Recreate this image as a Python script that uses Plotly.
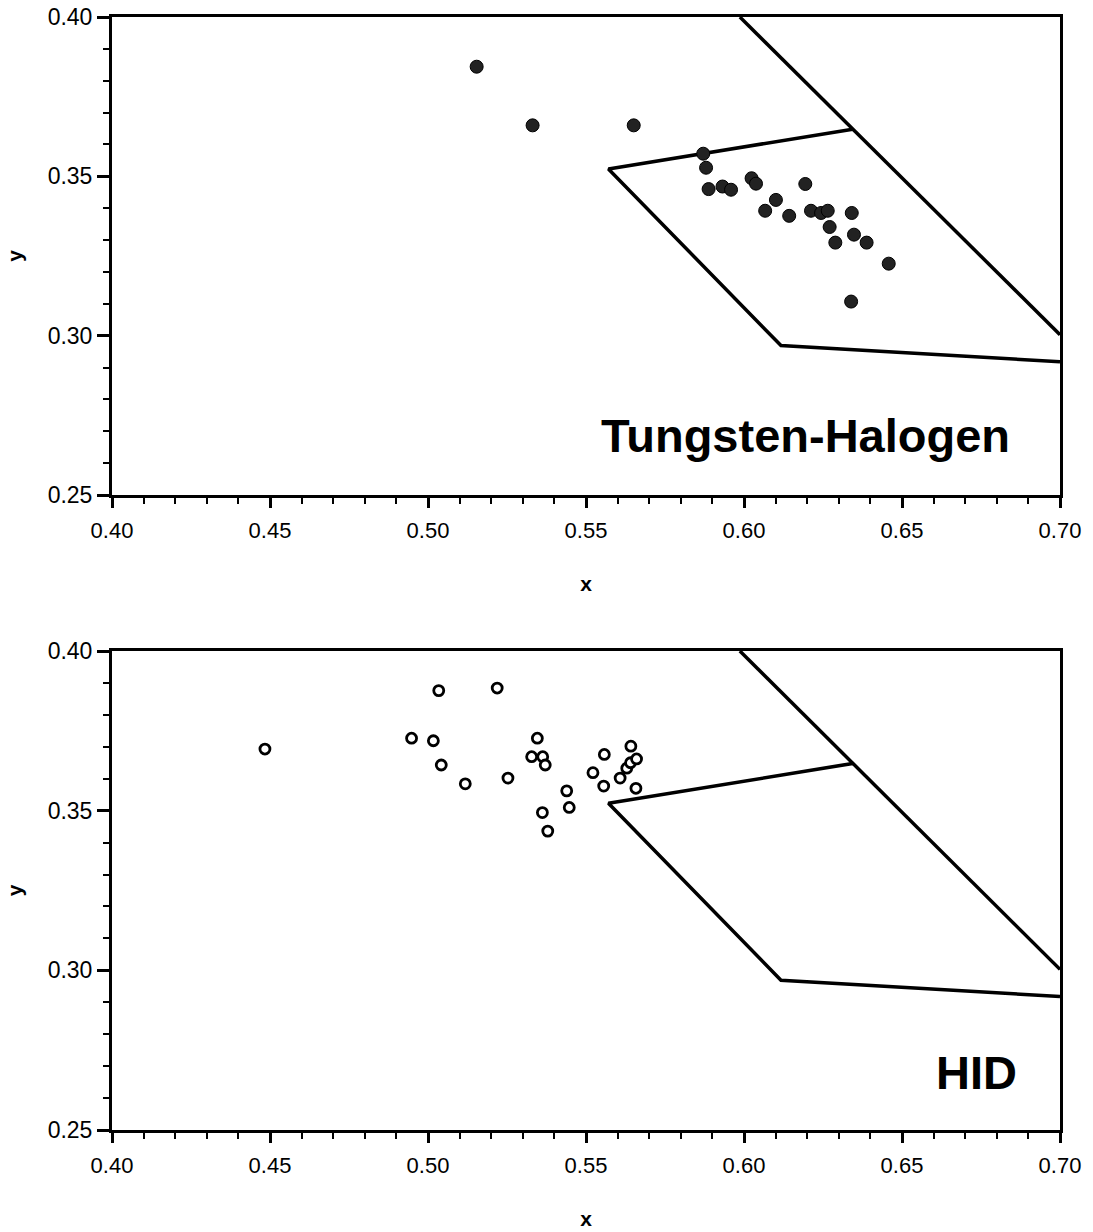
import plotly.graph_objects as go
from plotly.subplots import make_subplots

# Tungsten-Halogen measurements (chromaticity x, y)
th_x = [0.5154, 0.5331, 0.5651, 0.5871, 0.5880, 0.5888, 0.5932, 0.5959, 0.6024, 0.6038,
        0.6101, 0.6067, 0.6143, 0.6194, 0.6212, 0.6244, 0.6265, 0.6271, 0.6289, 0.6341,
        0.6348, 0.6388, 0.6458, 0.6339]
th_y = [0.3844, 0.3660, 0.3660, 0.3571, 0.3527, 0.3460, 0.3468, 0.3458, 0.3494, 0.3477,
        0.3426, 0.3392, 0.3376, 0.3476, 0.3392, 0.3385, 0.3392, 0.3341, 0.3292, 0.3385,
        0.3317, 0.3292, 0.3226, 0.3107]

# HID measurements
hid_x = [0.4484, 0.5034, 0.5219, 0.4948, 0.5017, 0.5042, 0.5118, 0.5253, 0.5346, 0.5328,
         0.5363, 0.5371, 0.5439, 0.5447, 0.5362, 0.5379, 0.5558, 0.5522, 0.5556, 0.5608,
         0.5642, 0.5629, 0.5641, 0.5660, 0.5658]
hid_y = [0.3693, 0.3876, 0.3884, 0.3727, 0.3719, 0.3643, 0.3584, 0.3602, 0.3727, 0.3669,
         0.3669, 0.3643, 0.3562, 0.3510, 0.3494, 0.3436, 0.3676, 0.3619, 0.3577, 0.3602,
         0.3702, 0.3633, 0.3650, 0.3662, 0.3570]

# Boundary lines
outer_x = [0.5987, 0.7000]
outer_y = [0.4000, 0.3003]
inner_x = [0.6344, 0.5571, 0.6117, 0.7000]
inner_y = [0.3648, 0.3523, 0.2969, 0.2918]

labels = ["Tungsten-Halogen", "HID"]

fig = make_subplots(rows=2, cols=1, vertical_spacing=0.14)

for r in (1, 2):
    fig.add_trace(go.Scatter(x=outer_x, y=outer_y, mode="lines",
                             line=dict(color="black", width=3.5), showlegend=False,
                             hoverinfo="skip"), row=r, col=1)
    fig.add_trace(go.Scatter(x=inner_x, y=inner_y, mode="lines",
                             line=dict(color="black", width=3.5), showlegend=False,
                             hoverinfo="skip"), row=r, col=1)

fig.add_trace(go.Scatter(x=th_x, y=th_y, mode="markers", name="Tungsten-Halogen",
                         marker=dict(symbol="circle", size=13, color="#222222",
                                     line=dict(color="black", width=1)),
                         showlegend=False, cliponaxis=False), row=1, col=1)
fig.add_trace(go.Scatter(x=hid_x, y=hid_y, mode="markers", name="HID",
                         marker=dict(symbol="circle", size=10, color="white",
                                     line=dict(color="black", width=2.8)),
                         showlegend=False, cliponaxis=False), row=2, col=1)

font_x = dict(family="Liberation Sans, Arial, sans-serif", size=22, color="black")
font_y = dict(family="Liberation Sans, Arial, sans-serif", size=23, color="black")
font_title = dict(family="Liberation Sans, Arial, sans-serif", size=21, color="black")

axis_common = dict(showgrid=False, zeroline=False, showline=True, linecolor="black",
                   linewidth=3, mirror=True, ticks="outside", tickwidth=2.5,
                   tickcolor="black", automargin=False,
                   minor=dict(ticks="outside", ticklen=6, tickwidth=2, tickcolor="black",
                              dtick=0.01))

for r in (1, 2):
    fig.update_xaxes(range=[0.40, 0.70], tick0=0.40, dtick=0.05, tickformat=".2f",
                     ticklen=10, tickfont=font_x, ticklabelstandoff=4,
                     title=dict(text="<b>x</b>", font=font_title, standoff=34),
                     **axis_common, row=r, col=1)
    fig.update_yaxes(range=[0.25, 0.40], tick0=0.25, dtick=0.05, tickformat=".2f",
                     ticklen=12, tickfont=font_y,
                     title=dict(text="<b>y</b>", font=font_title, standoff=20),
                     **axis_common, row=r, col=1)

ann_font = dict(family="Liberation Sans, Arial, sans-serif", size=47, color="black")
fig.add_annotation(x=0.6196, y=0.2688, xref="x", yref="y", text="<b>Tungsten-Halogen</b>",
                   showarrow=False, font=ann_font, xanchor="center", yanchor="middle")
fig.add_annotation(x=0.6737, y=0.2680, xref="x2", yref="y2", text="<b>HID</b>",
                   showarrow=False, font=ann_font, xanchor="center", yanchor="middle")

# pixel-derived domains: top plot 17-495 px, bottom plot 651-1130 px
T, B = 17, 102
H = 1232 - T - B
fig.update_layout(width=1093, height=1232, plot_bgcolor="white", paper_bgcolor="white",
                  margin=dict(l=112, r=33, t=T, b=B, autoexpand=False))
fig.update_layout(yaxis=dict(domain=[(1130 - 495) / H, 1.0]),
                  yaxis2=dict(domain=[0.0, (1130 - 651) / H]))

fig.write_html("out.html")
